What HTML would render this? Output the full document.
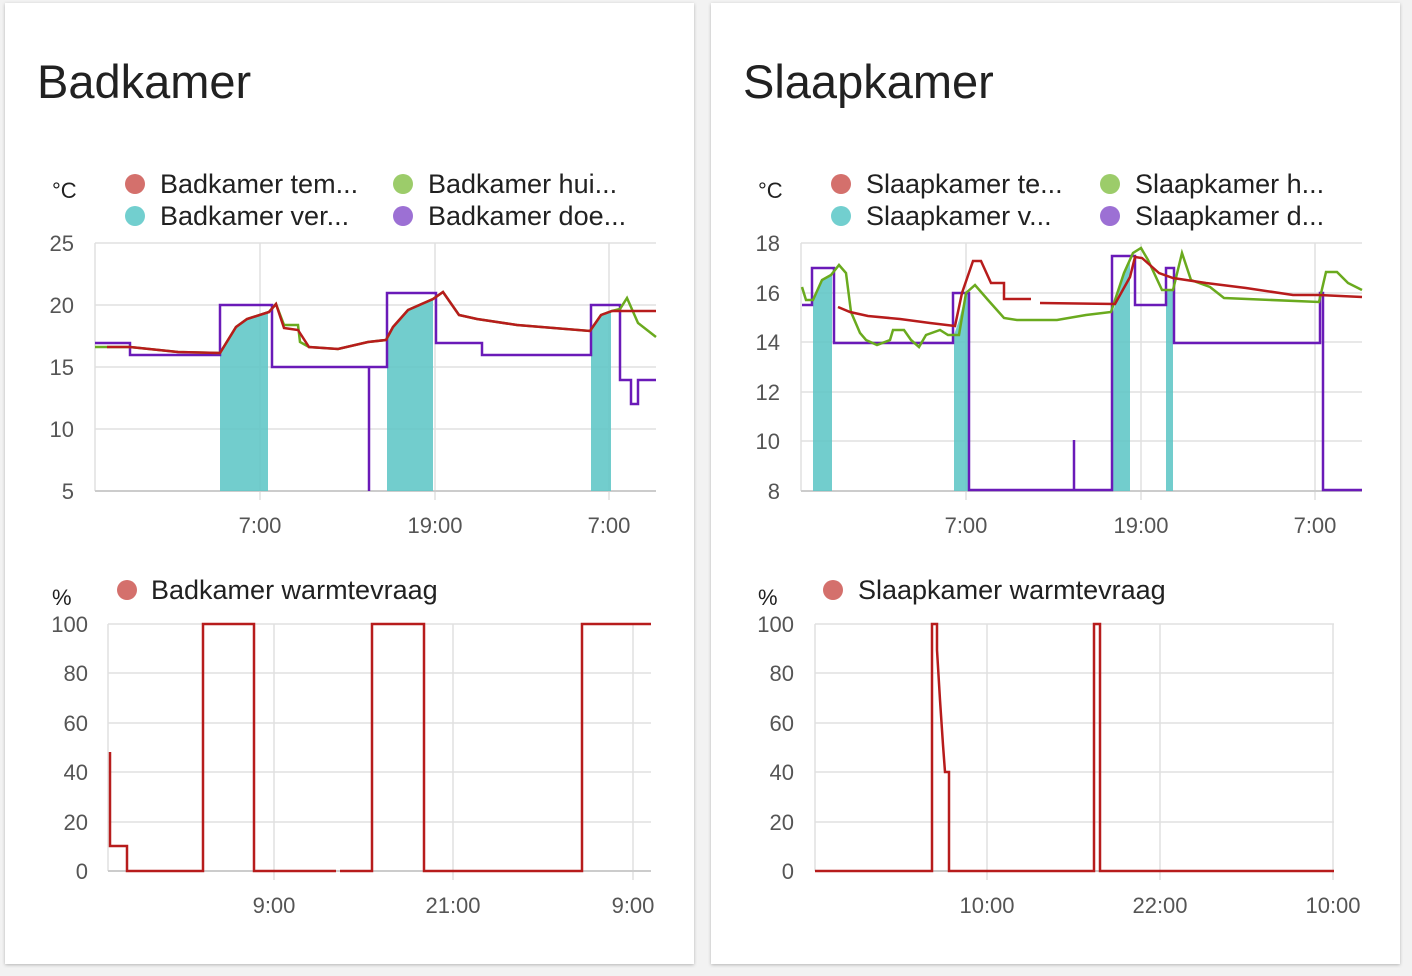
<!DOCTYPE html>
<html><head><meta charset="utf-8"><style>
html,body{margin:0;padding:0;background:#f2f2f2;}
svg{display:block}
text{font-family:"Liberation Sans",sans-serif;}
</style></head><body>
<svg width="1412" height="976" viewBox="0 0 1412 976" xmlns="http://www.w3.org/2000/svg">
<defs><filter id="sh" x="-5%" y="-5%" width="110%" height="110%"><feDropShadow dx="0" dy="1" stdDeviation="1.5" flood-color="#000" flood-opacity="0.25"/></filter></defs>
<rect x="0" y="0" width="1412" height="976" fill="#f2f2f2"/>
<rect x="5" y="3" width="689" height="961" fill="#fff" filter="url(#sh)"/>
<rect x="711" y="3" width="689" height="961" fill="#fff" filter="url(#sh)"/>

<!-- ===== LEFT CARD ===== -->
<text x="37" y="98" font-size="47" fill="#212121">Badkamer</text>
<text x="52" y="198" font-size="22" fill="#212121">°C</text>
<circle cx="135" cy="184" r="10" fill="#d4706c"/><text x="160" y="193" font-size="27" fill="#212121">Badkamer tem...</text>
<circle cx="135" cy="216" r="10" fill="#72cfcf"/><text x="160" y="225" font-size="27" fill="#212121">Badkamer ver...</text>
<circle cx="403" cy="184" r="10" fill="#9ccc6a"/><text x="428" y="193" font-size="27" fill="#212121">Badkamer hui...</text>
<circle cx="403" cy="216" r="10" fill="#9c70d4"/><text x="428" y="225" font-size="27" fill="#212121">Badkamer doe...</text>
<g stroke="#e0e0e0" stroke-width="1.5">
<line x1="95" y1="243" x2="656" y2="243"/><line x1="95" y1="305" x2="656" y2="305"/><line x1="95" y1="367" x2="656" y2="367"/><line x1="95" y1="429" x2="656" y2="429"/>
<line x1="95" y1="243" x2="95" y2="491"/><line x1="260" y1="243" x2="260" y2="500"/><line x1="435" y1="243" x2="435" y2="500"/><line x1="609" y1="243" x2="609" y2="500"/>
</g>
<line x1="95" y1="491" x2="656" y2="491" stroke="#ccc" stroke-width="2"/>
<g font-size="22" fill="#555" text-anchor="end"><text x="74" y="251">25</text><text x="74" y="313">20</text><text x="74" y="375">15</text><text x="74" y="437">10</text><text x="74" y="499">5</text></g>
<g font-size="22" fill="#555" text-anchor="middle"><text x="260" y="533">7:00</text><text x="435" y="533">19:00</text><text x="609" y="533">7:00</text></g>
<g fill="#5ec6c6" fill-opacity="0.88">
<polygon points="220,491 220,353 236,327 247,319 268,312 268,491"/>
<polygon points="387,491 387,340 393,327 408,310 433,299 433,491"/>
<polygon points="591,491 591,331 601,315 611,311 611,491"/>
</g>
<polyline fill="none" stroke="#6a1ab8" stroke-width="2.5" points="95,343 130,343 130,355 220,355 220,305 272,305 272,367 369,367 369,491 369,367 387,367 387,293 436,293 436,343 482,343 482,355 591,355 591,305 620,305 620,380 631,380 631,404 638,404 638,380 656,380"/>
<polyline fill="none" stroke="#6aaa1e" stroke-width="2.5" points="95,347 130,347 178,352 220,353 236,327 247,319 269,312 276,304 284,325 287,325 298,325 300,342 309,347 338,349 368,342 386,340 393,327 408,310 433,299 443,292 459,315 477,319 517,325 590,331 601,315 612,311 620,309 627,298 638,323 656,337"/>
<polyline fill="none" stroke="#b71c1c" stroke-width="2.5" points="107,347 130,347 178,352 220,353 236,327 247,319 269,312 276,304 284,328 298,330 309,347 338,349 368,342 386,340 393,327 408,310 433,299 443,292 459,315 477,319 517,325 590,331 601,315 612,311 656,311"/>

<text x="52" y="605" font-size="22" fill="#212121">%</text>
<circle cx="127" cy="590" r="10" fill="#d4706c"/><text x="151" y="599" font-size="27" fill="#212121">Badkamer warmtevraag</text>
<g stroke="#e0e0e0" stroke-width="1.5">
<line x1="108" y1="624" x2="651" y2="624"/><line x1="108" y1="673" x2="651" y2="673"/><line x1="108" y1="723" x2="651" y2="723"/><line x1="108" y1="772" x2="651" y2="772"/><line x1="108" y1="822" x2="651" y2="822"/>
<line x1="108" y1="624" x2="108" y2="871"/><line x1="274" y1="624" x2="274" y2="880"/><line x1="453" y1="624" x2="453" y2="880"/><line x1="633" y1="624" x2="633" y2="880"/>
</g>
<line x1="108" y1="871" x2="651" y2="871" stroke="#ccc" stroke-width="2"/>
<g font-size="22" fill="#555" text-anchor="end"><text x="88" y="632">100</text><text x="88" y="681">80</text><text x="88" y="731">60</text><text x="88" y="780">40</text><text x="88" y="830">20</text><text x="88" y="879">0</text></g>
<g font-size="22" fill="#555" text-anchor="middle"><text x="274" y="913">9:00</text><text x="453" y="913">21:00</text><text x="633" y="913">9:00</text></g>
<polyline fill="none" stroke="#b71c1c" stroke-width="2.5" points="110,752 110,846 127,846 127,871 203,871 203,624 254,624 254,871 336,871"/>
<polyline fill="none" stroke="#b71c1c" stroke-width="2.5" points="340,871 372,871 372,624 424,624 424,871 582,871 582,624 651,624"/>

<!-- ===== RIGHT CARD ===== -->
<text x="743" y="98" font-size="47" fill="#212121">Slaapkamer</text>
<text x="758" y="198" font-size="22" fill="#212121">°C</text>
<circle cx="841" cy="184" r="10" fill="#d4706c"/><text x="866" y="193" font-size="27" fill="#212121">Slaapkamer te...</text>
<circle cx="841" cy="216" r="10" fill="#72cfcf"/><text x="866" y="225" font-size="27" fill="#212121">Slaapkamer v...</text>
<circle cx="1110" cy="184" r="10" fill="#9ccc6a"/><text x="1135" y="193" font-size="27" fill="#212121">Slaapkamer h...</text>
<circle cx="1110" cy="216" r="10" fill="#9c70d4"/><text x="1135" y="225" font-size="27" fill="#212121">Slaapkamer d...</text>
<g stroke="#e0e0e0" stroke-width="1.5">
<line x1="801" y1="243" x2="1362" y2="243"/><line x1="801" y1="293" x2="1362" y2="293"/><line x1="801" y1="342" x2="1362" y2="342"/><line x1="801" y1="392" x2="1362" y2="392"/><line x1="801" y1="441" x2="1362" y2="441"/>
<line x1="801" y1="243" x2="801" y2="491"/><line x1="966" y1="243" x2="966" y2="500"/><line x1="1141" y1="243" x2="1141" y2="500"/><line x1="1315" y1="243" x2="1315" y2="500"/>
</g>
<line x1="801" y1="491" x2="1362" y2="491" stroke="#ccc" stroke-width="2"/>
<g font-size="22" fill="#555" text-anchor="end"><text x="780" y="251">18</text><text x="780" y="301">16</text><text x="780" y="350">14</text><text x="780" y="400">12</text><text x="780" y="449">10</text><text x="780" y="499">8</text></g>
<g font-size="22" fill="#555" text-anchor="middle"><text x="966" y="533">7:00</text><text x="1141" y="533">19:00</text><text x="1315" y="533">7:00</text></g>
<g fill="#5ec6c6" fill-opacity="0.88">
<polygon points="813,491 813,300 822,280 832,275 832,491"/>
<polygon points="954,491 954,335 959,320 966,293 968,293 968,491"/>
<polygon points="1113,491 1113,312 1124,273 1130,262 1130,491"/>
<polygon points="1166,491 1166,290 1173,290 1173,491"/>
</g>
<polyline fill="none" stroke="#6a1ab8" stroke-width="2.5" points="802,305 812,305 812,268 834,268 834,343 953,343 953,293 969,293 969,490 1074,490 1074,440 1074,490 1112,490 1112,256 1135,256 1135,305 1166,305 1166,268 1174,268 1174,343 1320,343 1320,293 1323,293 1323,490 1362,490"/>
<polyline fill="none" stroke="#6aaa1e" stroke-width="2.5" points="802,287 806,300 813,300 822,280 831,275 839,265 846,273 851,312 860,333 866,340 877,345 890,340 893,330 904,330 911,340 919,347 926,335 940,330 948,335 959,335 966,293 975,285 988,300 1004,318 1017,320 1057,320 1086,315 1111,312 1124,273 1133,253 1141,248 1148,260 1162,290 1173,290 1182,253 1191,280 1210,287 1224,298 1319,302 1326,272 1337,272 1348,283 1362,290"/>
<polyline fill="none" stroke="#b71c1c" stroke-width="2.5" points="838,307 850,312 868,316 900,319 930,323 955,326 962,293 973,261 981,261 991,283 1004,283 1004,299 1031,299"/>
<polyline fill="none" stroke="#b71c1c" stroke-width="2.5" points="1040,303 1115,304 1130,277 1135,257 1142,258 1159,273 1173,278 1206,283 1246,288 1293,295 1319,295 1362,297"/>

<text x="758" y="605" font-size="22" fill="#212121">%</text>
<circle cx="833" cy="590" r="10" fill="#d4706c"/><text x="858" y="599" font-size="27" fill="#212121">Slaapkamer warmtevraag</text>
<g stroke="#e0e0e0" stroke-width="1.5">
<line x1="815" y1="624" x2="1334" y2="624"/><line x1="815" y1="673" x2="1334" y2="673"/><line x1="815" y1="723" x2="1334" y2="723"/><line x1="815" y1="772" x2="1334" y2="772"/><line x1="815" y1="822" x2="1334" y2="822"/>
<line x1="815" y1="624" x2="815" y2="871"/><line x1="987" y1="624" x2="987" y2="880"/><line x1="1160" y1="624" x2="1160" y2="880"/><line x1="1333" y1="624" x2="1333" y2="880"/>
</g>
<line x1="815" y1="871" x2="1334" y2="871" stroke="#ccc" stroke-width="2"/>
<g font-size="22" fill="#555" text-anchor="end"><text x="794" y="632">100</text><text x="794" y="681">80</text><text x="794" y="731">60</text><text x="794" y="780">40</text><text x="794" y="830">20</text><text x="794" y="879">0</text></g>
<g font-size="22" fill="#555" text-anchor="middle"><text x="987" y="913">10:00</text><text x="1160" y="913">22:00</text><text x="1333" y="913">10:00</text></g>
<polyline fill="none" stroke="#b71c1c" stroke-width="2.5" points="815,871 932,871 932,624 937,624 937,650 940,700 943,745 945,772 949,772 949,871 1094,871 1094,624 1100,624 1100,871 1334,871"/>
</svg>
</body></html>
